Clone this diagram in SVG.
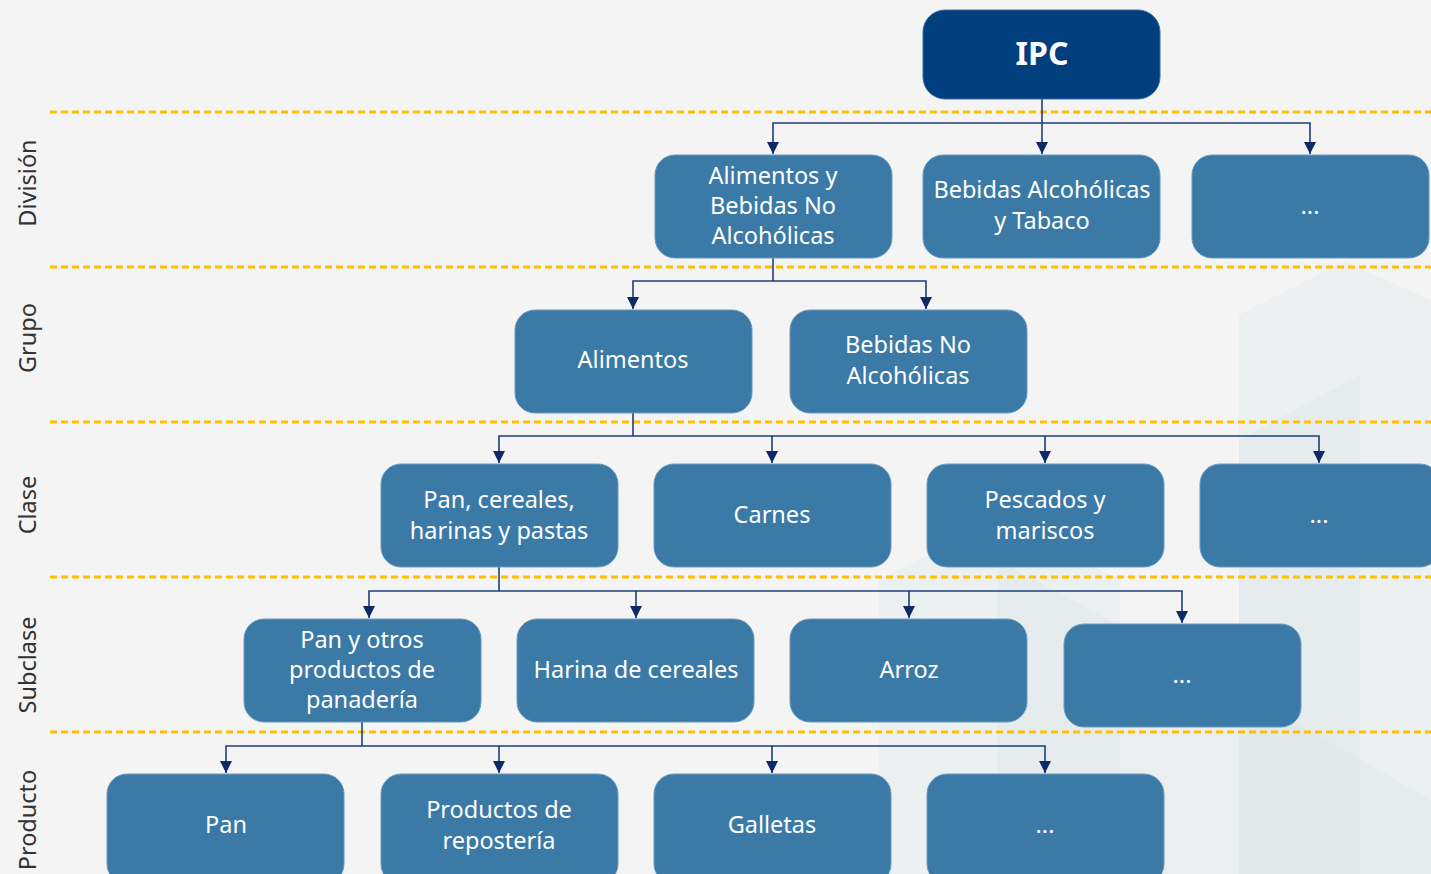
<svg xmlns="http://www.w3.org/2000/svg" width="1431" height="874" viewBox="0 0 1431 874">
<defs>
<marker id="ah" viewBox="0 0 12 12" refX="12" refY="6" markerWidth="12" markerHeight="12" markerUnits="userSpaceOnUse" orient="auto">
<path d="M0,0 L12,6 L0,12 Z" fill="#0d2a66"/>
</marker>
<style>
.bg{fill:#f4f4f4}
.hx{fill:#e4ecee;opacity:0.5}
.hx2{fill:#dfe5e8;opacity:0.4}
.sep{stroke:#ffc000;stroke-width:3;stroke-dasharray:7 4;fill:none}
.box{fill:#3b7aa6;stroke:#6a9bc2;stroke-width:1}
.top{fill:#003e7e;stroke:#3a6aa0;stroke-width:1}
.t{font-family:"Noto Sans","DejaVu Sans",sans-serif;font-size:23.5px;fill:#ffffff;text-anchor:middle}
.tb{font-family:"Noto Sans","DejaVu Sans",sans-serif;font-size:32px;font-weight:bold;fill:#ffffff;text-anchor:middle}
.lbl{font-family:"Noto Sans","DejaVu Sans",sans-serif;font-size:23.5px;fill:#333333;text-anchor:middle}
.c{stroke:#1f3e7a;stroke-width:1.6;fill:none}
.ca{stroke:#1f3e7a;stroke-width:1.6;fill:none;marker-end:url(#ah)}
</style>
</defs>
<rect class="bg" x="0" y="0" width="1431" height="874"/>
<g id="background">
<polygon class="hx" points="1239,315 1344,262 1431,300 1431,874 1239,874"/>
<polygon class="hx2" points="1239,440 1360,375 1360,874 1239,874"/>
<polygon class="hx" points="879,580 998,520 1120,580 1120,874 879,874"/>
<polygon class="hx2" points="998,560 1239,690 1431,800 1431,874 998,874"/>
</g>
<g id="separators">
<line class="sep" x1="50" y1="112" x2="1431" y2="112"/>
<line class="sep" x1="50" y1="267" x2="1431" y2="267"/>
<line class="sep" x1="50" y1="422" x2="1431" y2="422"/>
<line class="sep" x1="50" y1="577" x2="1431" y2="577"/>
<line class="sep" x1="50" y1="732" x2="1431" y2="732"/>
</g>
<g id="level-labels">
<text class="lbl" transform="translate(36,183) rotate(-90)">División</text>
<text class="lbl" transform="translate(36,338) rotate(-90)">Grupo</text>
<text class="lbl" transform="translate(36,505) rotate(-90)">Clase</text>
<text class="lbl" transform="translate(36,665) rotate(-90)">Subclase</text>
<text class="lbl" transform="translate(36,820) rotate(-90)">Producto</text>
</g>
<g id="connectors">
<line class="ca" x1="1042" y1="99" x2="1042" y2="154"/>
<polyline class="ca" points="1042,123 773,123 773,154"/>
<polyline class="ca" points="1042,123 1310,123 1310,154"/>
<line class="c" x1="773" y1="258" x2="773" y2="281"/>
<polyline class="ca" points="773,281 633,281 633,309"/>
<polyline class="ca" points="773,281 926,281 926,309"/>
<line class="c" x1="633" y1="413" x2="633" y2="436"/>
<polyline class="ca" points="633,436 499,436 499,463"/>
<polyline class="ca" points="633,436 772,436 772,463"/>
<polyline class="ca" points="772,436 1045,436 1045,463"/>
<polyline class="ca" points="1045,436 1319,436 1319,463"/>
<line class="c" x1="499" y1="567" x2="499" y2="591"/>
<polyline class="ca" points="499,591 369,591 369,618"/>
<polyline class="ca" points="499,591 636,591 636,618"/>
<polyline class="ca" points="636,591 909,591 909,618"/>
<polyline class="ca" points="909,591 1182,591 1182,623"/>
<line class="c" x1="362" y1="722" x2="362" y2="746"/>
<polyline class="ca" points="362,746 226,746 226,773"/>
<polyline class="ca" points="362,746 499,746 499,773"/>
<polyline class="ca" points="499,746 772,746 772,773"/>
<polyline class="ca" points="772,746 1045,746 1045,773"/>
</g>
<g id="n-ipc"><rect class="top" x="923" y="10" width="237" height="89" rx="22"/><text class="tb" x="1042" y="65">IPC</text></g>
<g id="n-div1"><rect class="box" x="655" y="155" width="237" height="103" rx="20"/><text class="t" x="773" y="184">Alimentos y</text><text class="t" x="773" y="214">Bebidas No</text><text class="t" x="773" y="244">Alcohólicas</text></g>
<g id="n-div2"><rect class="box" x="923" y="155" width="237" height="103" rx="20"/><text class="t" x="1042" y="198">Bebidas Alcohólicas</text><text class="t" x="1042" y="229">y Tabaco</text></g>
<g id="n-div3"><rect class="box" x="1192" y="155" width="237" height="103" rx="20"/><text class="t" x="1310" y="214">...</text></g>
<g id="n-gr1"><rect class="box" x="515" y="310" width="237" height="103" rx="20"/><text class="t" x="633" y="368">Alimentos</text></g>
<g id="n-gr2"><rect class="box" x="790" y="310" width="237" height="103" rx="20"/><text class="t" x="908" y="353">Bebidas No</text><text class="t" x="908" y="384">Alcohólicas</text></g>
<g id="n-cl1"><rect class="box" x="381" y="464" width="237" height="103" rx="20"/><text class="t" x="499" y="508">Pan, cereales,</text><text class="t" x="499" y="539">harinas y pastas</text></g>
<g id="n-cl2"><rect class="box" x="654" y="464" width="237" height="103" rx="20"/><text class="t" x="772" y="523">Carnes</text></g>
<g id="n-cl3"><rect class="box" x="927" y="464" width="237" height="103" rx="20"/><text class="t" x="1045" y="508">Pescados y</text><text class="t" x="1045" y="539">mariscos</text></g>
<g id="n-cl4"><rect class="box" x="1200" y="464" width="240" height="103" rx="20"/><text class="t" x="1319" y="523">...</text></g>
<g id="n-sc1"><rect class="box" x="244" y="619" width="237" height="103" rx="20"/><text class="t" x="362" y="648">Pan y otros</text><text class="t" x="362" y="678">productos de</text><text class="t" x="362" y="708">panadería</text></g>
<g id="n-sc2"><rect class="box" x="517" y="619" width="237" height="103" rx="20"/><text class="t" x="636" y="678">Harina de cereales</text></g>
<g id="n-sc3"><rect class="box" x="790" y="619" width="237" height="103" rx="20"/><text class="t" x="909" y="678">Arroz</text></g>
<g id="n-sc4"><rect class="box" x="1064" y="624" width="237" height="103" rx="20"/><text class="t" x="1182" y="683">...</text></g>
<g id="n-p1"><rect class="box" x="107" y="774" width="237" height="110" rx="20"/><text class="t" x="226" y="833">Pan</text></g>
<g id="n-p2"><rect class="box" x="381" y="774" width="237" height="110" rx="20"/><text class="t" x="499" y="818">Productos de</text><text class="t" x="499" y="849">repostería</text></g>
<g id="n-p3"><rect class="box" x="654" y="774" width="237" height="110" rx="20"/><text class="t" x="772" y="833">Galletas</text></g>
<g id="n-p4"><rect class="box" x="927" y="774" width="237" height="110" rx="20"/><text class="t" x="1045" y="833">...</text></g>
</svg>
